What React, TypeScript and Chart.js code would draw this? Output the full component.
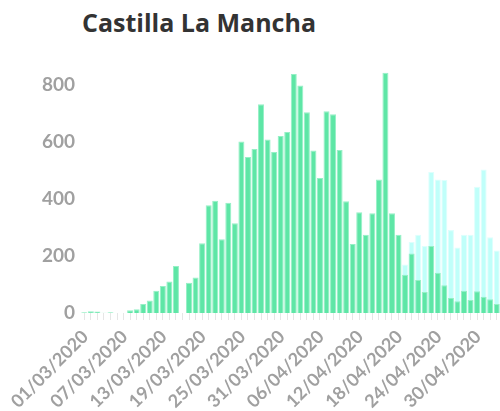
import React, { useEffect, useRef } from 'react';
import { Chart, registerables } from 'chart.js';

Chart.register(...registerables);

const titleText = 'Castilla La Mancha';

const categories = [
  '01/03/2020', '02/03/2020', '03/03/2020', '04/03/2020', '05/03/2020', '06/03/2020', '07/03/2020', '08/03/2020',
  '09/03/2020', '10/03/2020', '11/03/2020', '12/03/2020', '13/03/2020', '14/03/2020', '15/03/2020', '16/03/2020',
  '17/03/2020', '18/03/2020', '19/03/2020', '20/03/2020', '21/03/2020', '22/03/2020', '23/03/2020', '24/03/2020',
  '25/03/2020', '26/03/2020', '27/03/2020', '28/03/2020', '29/03/2020', '30/03/2020', '31/03/2020', '01/04/2020',
  '02/04/2020', '03/04/2020', '04/04/2020', '05/04/2020', '06/04/2020', '07/04/2020', '08/04/2020', '09/04/2020',
  '10/04/2020', '11/04/2020', '12/04/2020', '13/04/2020', '14/04/2020', '15/04/2020', '16/04/2020', '17/04/2020',
  '18/04/2020', '19/04/2020', '20/04/2020', '21/04/2020', '22/04/2020', '23/04/2020', '24/04/2020', '25/04/2020',
  '26/04/2020', '27/04/2020', '28/04/2020', '29/04/2020', '30/04/2020', '01/05/2020', '02/05/2020', '03/05/2020',
];

const shownTickLabels = [
  '01/03/2020', '07/03/2020', '13/03/2020', '19/03/2020', '25/03/2020', '31/03/2020',
  '06/04/2020', '12/04/2020', '18/04/2020', '24/04/2020', '30/04/2020',
];

const greenSeries = [
  3, 6, 5, 1, 3, 0, 0, 10, 13, 32, 44, 78, 95, 111, 165, 0,
  106, 125, 245, 378, 394, 259, 387, 315, 602, 548, 576, 733, 609, 565, 621, 635,
  839, 799, 705, 570, 474, 708, 698, 572, 392, 242, 354, 275, 350, 469, 843, 350,
  275, 134, 209, 116, 74, 235, 141, 97, 53, 41, 78, 46, 76, 57, 48, 32,
];

const cyanSeries = [
  null, null, null, null, null, null, null, null, null, null, null, null, null, null, null, null,
  null, null, null, null, null, null, null, null, null, null, null, null, null, null, null, null,
  null, null, null, null, null, null, null, null, null, null, null, null, null, null, null, null,
  null, 170, 249, 275, 235, 495, 469, 467, 291, 230, 275, 275, 443, 504, 266, 219,
];

const yTickValues = [0, 200, 400, 600, 800];

export default function App() {
  const canvasRef = useRef<HTMLCanvasElement | null>(null);

  useEffect(() => {
    if (!canvasRef.current) return;
    const yFont = { family: 'Lato', weight: 'bold' as const, size: 19 };
    const xFont = { family: 'Lato', weight: 'bold' as const, size: 18 };
    const chart = new Chart(canvasRef.current, {
      type: 'bar',
      data: {
        labels: categories,
        datasets: [
          {
            label: 'A',
            data: greenSeries,
            backgroundColor: 'rgb(94, 230, 166)',
            borderColor: 'rgb(150, 240, 198)',
            borderWidth: 1,
            barPercentage: 0.92,
            categoryPercentage: 1,
          },
          {
            label: 'B',
            data: cyanSeries,
            backgroundColor: 'rgb(192, 255, 250)',
            borderColor: 'rgb(222, 255, 253)',
            borderWidth: 1,
            barPercentage: 0.92,
            categoryPercentage: 1,
          },
        ],
      },
      options: {
        responsive: false,
        animation: false,
        layout: { padding: { top: 68, right: 0, bottom: 0, left: 0 } },
        plugins: {
          legend: { display: false },
          title: { display: false },
          tooltip: { enabled: false },
        },
        scales: {
          x: {
            stacked: true,
            border: { display: false },
            grid: {
              display: true,
              drawOnChartArea: false,
              drawTicks: true,
              tickLength: 7,
              color: '#e6e6e6',
              offset: false,
            },
            ticks: {
              autoSkip: false,
              minRotation: 45,
              maxRotation: 45,
              color: '#a0a0a0',
              font: xFont,
              padding: 6,
              labelOffset: 1,
              callback: (_v: any, i: number) =>
                shownTickLabels.includes(categories[i]) ? categories[i] : '',
            },
            afterFit: (scale: any) => {
              scale.paddingRight = 0;
              scale.height = 98;
            },
          },
          y: {
            stacked: false,
            min: 0,
            max: 860,
            border: { display: false },
            grid: { display: false, drawTicks: false },
            ticks: {
              color: '#a0a0a0',
              font: yFont,
              padding: 6,
              stepSize: 200,
            },
            afterBuildTicks: (scale: any) => {
              scale.ticks = yTickValues.map((v) => ({ value: v }));
            },
            afterFit: (scale: any) => {
              scale.width = 81;
            },
          },
        },
      },
    });
    return () => chart.destroy();
  }, []);

  return (
    <div style={{ position: 'absolute', left: 0, top: 0, width: 500, height: 411, background: '#fff' }}>
      <div
        style={{
          position: 'absolute',
          left: 82,
          top: 10,
          fontFamily: '"Open Sans", sans-serif',
          fontWeight: 700,
          fontSize: 25,
          lineHeight: '25px',
          color: '#333333',
          whiteSpace: 'nowrap',
        }}
      >
        {titleText}
      </div>
      <canvas
        ref={canvasRef}
        width={500}
        height={411}
        style={{ position: 'absolute', left: 0, top: 0, width: 500, height: 411 }}
      />
    </div>
  );
}
